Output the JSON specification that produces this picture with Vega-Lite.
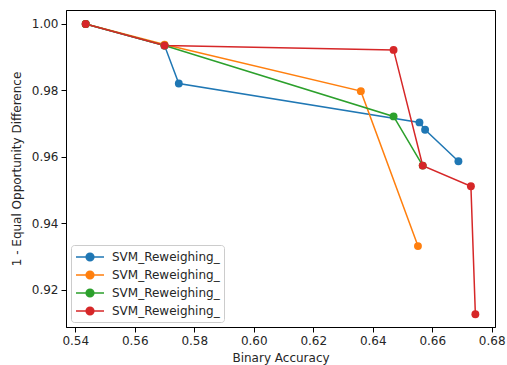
{
  "$schema": "https://vega.github.io/schema/vega-lite/v6.json",
  "width": 429,
  "height": 317,
  "autosize": "none",
  "padding": {"left": 66, "top": 10, "right": 12, "bottom": 38},
  "background": "white",
  "config": {
    "view": {"stroke": "black", "strokeWidth": 1},
    "font": "DejaVu Sans",
    "axis": {
      "grid": false,
      "domainColor": "black",
      "tickColor": "black",
      "tickSize": 5,
      "labelFont": "DejaVu Sans",
      "labelFontSize": 12,
      "labelColor": "#262626",
      "labelPadding": 3,
      "titleFont": "DejaVu Sans",
      "titleFontSize": 12,
      "titleFontWeight": "normal",
      "titleColor": "#262626"
    }
  },
  "data": {
    "values": [
      {"series": "a", "order": 1, "acc": 0.5435, "eod": 1.0},
      {"series": "a", "order": 2, "acc": 0.5700, "eod": 0.9935},
      {"series": "a", "order": 3, "acc": 0.5748, "eod": 0.9821},
      {"series": "a", "order": 4, "acc": 0.6557, "eod": 0.9704},
      {"series": "a", "order": 5, "acc": 0.6576, "eod": 0.9682},
      {"series": "a", "order": 6, "acc": 0.6688, "eod": 0.9587},
      {"series": "b", "order": 1, "acc": 0.5435, "eod": 1.0},
      {"series": "b", "order": 2, "acc": 0.5700, "eod": 0.9938},
      {"series": "b", "order": 3, "acc": 0.6360, "eod": 0.9798},
      {"series": "b", "order": 4, "acc": 0.6552, "eod": 0.9332},
      {"series": "c", "order": 1, "acc": 0.5435, "eod": 1.0},
      {"series": "c", "order": 2, "acc": 0.5700, "eod": 0.9935},
      {"series": "c", "order": 3, "acc": 0.6470, "eod": 0.9722},
      {"series": "c", "order": 4, "acc": 0.6568, "eod": 0.9574},
      {"series": "d", "order": 1, "acc": 0.5435, "eod": 1.0},
      {"series": "d", "order": 2, "acc": 0.5700, "eod": 0.9935},
      {"series": "d", "order": 3, "acc": 0.6470, "eod": 0.9922},
      {"series": "d", "order": 4, "acc": 0.6568, "eod": 0.9574},
      {"series": "d", "order": 5, "acc": 0.6730, "eod": 0.9512},
      {"series": "d", "order": 6, "acc": 0.6745, "eod": 0.9127}
    ]
  },
  "mark": {"type": "line", "strokeWidth": 1.5, "point": {"filled": true, "size": 62, "opacity": 1}},
  "encoding": {
    "x": {
      "field": "acc", "type": "quantitative",
      "scale": {"domain": [0.53688, 0.6811], "nice": false, "zero": false},
      "axis": {"values": [0.54, 0.56, 0.58, 0.6, 0.62, 0.64, 0.66, 0.68], "format": ".2f", "title": "Binary Accuracy", "titlePadding": 6}
    },
    "y": {
      "field": "eod", "type": "quantitative",
      "scale": {"domain": [0.90887, 1.0042], "nice": false, "zero": false},
      "axis": {"values": [0.92, 0.94, 0.96, 0.98, 1.0], "format": ".2f", "title": "1 - Equal Opportunity Difference", "titlePadding": 8}
    },
    "order": {"field": "order", "type": "quantitative"},
    "color": {
      "field": "series", "type": "nominal",
      "scale": {"domain": ["a", "b", "c", "d"], "range": ["#1f77b4", "#ff7f0e", "#2ca02c", "#d62728"]},
      "legend": {
        "title": null,
        "orient": "bottom-left",
        "offset": 5,
        "labelExpr": "'SVM_Reweighing_'",
        "labelFont": "DejaVu Sans",
        "labelFontSize": 12,
        "labelColor": "#262626",
        "symbolType": "M-1,0L3,0M0.45,0A0.55,0.55 0 1,0 1.55,0A0.55,0.55 0 1,0 0.45,0Z",
        "symbolSize": 196,
        "symbolStrokeWidth": 1.5,
        "labelOffset": 21,
        "rowPadding": 3,
        "padding": 4,
        "fillColor": "white",
        "strokeColor": "#cccccc",
        "cornerRadius": 3,
        "encode": {
          "symbols": {
            "update": {
              "fill": {"scale": "color", "field": "value"},
              "stroke": {"scale": "color", "field": "value"},
              "opacity": {"value": 1},
              "fillOpacity": {"value": 1}
            }
          }
        }
      }
    }
  }
}
